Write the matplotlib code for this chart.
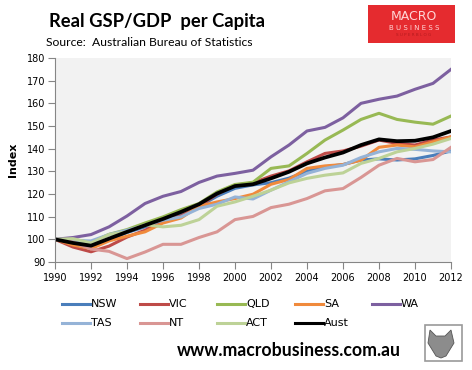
import matplotlib
matplotlib.use('Agg')
import matplotlib.pyplot as plt
from matplotlib.lines import Line2D
from matplotlib.patches import Rectangle, Polygon

# index values (1990 = 100)
years = list(range(1990, 2013))
nsw = [100, 98.5, 97.5, 100, 103, 105.5, 108.5, 111, 114.5, 119, 122.5, 124, 125, 127, 130, 132, 133, 135, 135.5, 135, 135.5, 137, 139]
vic = [100, 96.6, 94.5, 97, 101, 104, 108, 110.3, 114.6, 119.9, 123.9, 124.9, 127.9, 130.2, 134.2, 137.9, 139, 141.1, 143.8, 142.3, 141.6, 143.8, 145.2]
qld = [100, 100, 98.6, 102.2, 104.3, 107.2, 109.9, 113.1, 115.8, 120.9, 124.2, 125.2, 131.3, 132.4, 137.9, 143.8, 148.2, 152.9, 155.6, 152.9, 151.7, 150.8, 154.4]
sa = [100, 97.5, 95.9, 99.3, 101.4, 103.3, 107.2, 109.4, 114.6, 116.5, 118, 119.9, 124.3, 126.4, 131.3, 132.4, 133, 134.9, 140.6, 141.6, 140.8, 143, 145.2]
wa = [100, 100.8, 102.1, 105.5, 110.3, 115.8, 119, 121.1, 125.1, 127.9, 129.1, 130.5, 136.4, 141.6, 147.8, 149.4, 153.6, 160, 161.8, 163.2, 166.2, 168.8, 175]
tas = [100, 99.5, 99.3, 102.1, 104, 106.2, 108.4, 109.9, 113.6, 115.5, 118.7, 117.8, 121.7, 125.4, 129.1, 131.3, 132.7, 136.1, 138.6, 140.1, 139.7, 139, 138.6]
nt = [100, 98.8, 95.7, 94.7, 91.5, 94.4, 97.8, 97.8, 100.8, 103.3, 108.7, 110.1, 114, 115.5, 118, 121.4, 122.4, 127.3, 132.7, 135.7, 134.2, 135.2, 140.6]
act = [100, 100.3, 98.4, 102.1, 103.3, 106.5, 105.5, 106.2, 108.7, 114.6, 116.5, 119, 121.7, 124.9, 126.9, 128.3, 129.3, 133.5, 135.7, 138.6, 140.1, 142, 144.5]
aust = [100, 98.4, 97.2, 100.3, 103.3, 106.2, 109, 112.1, 115.5, 120.2, 123.5, 124.3, 126.9, 129.8, 133.5, 136.1, 138.3, 141.6, 144.1, 143.3, 143.5, 145, 147.8]

names = ['NSW', 'VIC', 'QLD', 'SA', 'WA', 'TAS', 'NT', 'ACT', 'Aust']
series = [nsw, vic, qld, sa, wa, tas, nt, act, aust]
colors = ['#4A7EBB', '#BE4B48', '#98B954', '#F08A3C', '#7D60A0',
          '#95B3D7', '#D99694', '#BDD297', '#000000']

W, H = 472, 370
fig = plt.figure(figsize=(W / 100, H / 100), dpi=100)
ax = fig.add_axes([55 / W, (H - 262) / H, 396 / W, 204 / H])
ax.set_facecolor('#F2F2F2')

for name, vals, c in zip(names, series, colors):
    lw = 2.7 if name == 'Aust' else 2.2
    ax.plot(years, vals, color=c, lw=lw, solid_joinstyle='round')

ax.set_xlim(1990, 2012)
ax.set_ylim(90, 180)
ax.set_xticks(range(1990, 2013, 2))
ax.set_yticks(range(90, 181, 10))
for s in ['top', 'right']:
    ax.spines[s].set_visible(False)
for s in ['left', 'bottom']:
    ax.spines[s].set_color('#868686')
ax.tick_params(axis='both', colors='#868686', labelcolor='black', labelsize=7, length=5, width=0.8)
ax.tick_params(axis='x', pad=3)
ax.tick_params(axis='y', pad=2)
ax.set_ylabel('Index', fontsize=8, fontweight='bold', labelpad=6)

# title and source
fig.text(49 / W, 1 - 27 / H, 'Real GSP/GDP  per Capita', fontsize=13.2, fontweight='bold',
         family='Lato', ha='left', va='baseline')
fig.text(46 / W, 1 - 45.5 / H, 'Source:  Australian Bureau of Statistics', fontsize=8.7,
         family='Lato', ha='left', va='baseline')

# legend, drawn by hand on an even grid
col_x = [62, 140, 217, 295, 372]
row_y = [304, 323]
for i, (name, c) in enumerate(zip(names, colors)):
    r, k = divmod(i, 5)
    x0, y0 = col_x[k], row_y[r]
    fig.add_artist(Line2D([x0 / W, (x0 + 28) / W], [1 - y0 / H] * 2, color=c, lw=2.2,
                          transform=fig.transFigure))
    fig.text((x0 + 29) / W, 1 - y0 / H, name, fontsize=8, ha='left', va='center')

# logo box top right
fig.add_artist(Rectangle((368 / W, 1 - 43 / H), 87 / W, 38 / H, transform=fig.transFigure,
                         facecolor='#E52B2F', edgecolor='none'))
fig.text(414 / W, 1 - 16.5 / H, 'MACRO', fontsize=9, color='#FFD6D6', ha='center', va='center')
fig.text(414 / W, 1 - 27.5 / H, 'B U S I N E S S', fontsize=5, color='#FFD6D6', ha='center', va='center')
fig.text(414 / W, 1 - 34.5 / H, 'S U P E R B L O G', fontsize=3, color='#B51A1E', ha='center', va='center')

# website and fox badge
fig.text(289 / W, 1 - 356 / H, 'www.macrobusiness.com.au', fontsize=12.7, fontweight='bold',
         family='Lato', ha='center', va='baseline')
fig.add_artist(Rectangle((425 / W, 1 - 361 / H), 37 / W, 36 / H, transform=fig.transFigure,
                         facecolor='white', edgecolor='#9A9A9A', lw=1.2))
fox = [(430, 330), (436, 336), (445, 336), (451, 330), (454, 343), (446, 356), (441, 358), (436, 356), (428, 343)]
fig.add_artist(Polygon([(x / W, 1 - y / H) for x, y in fox], closed=True, transform=fig.transFigure,
                       facecolor='#8C8C8C', edgecolor='#555555', lw=0.6))

fig.savefig('out.png', dpi=100)
